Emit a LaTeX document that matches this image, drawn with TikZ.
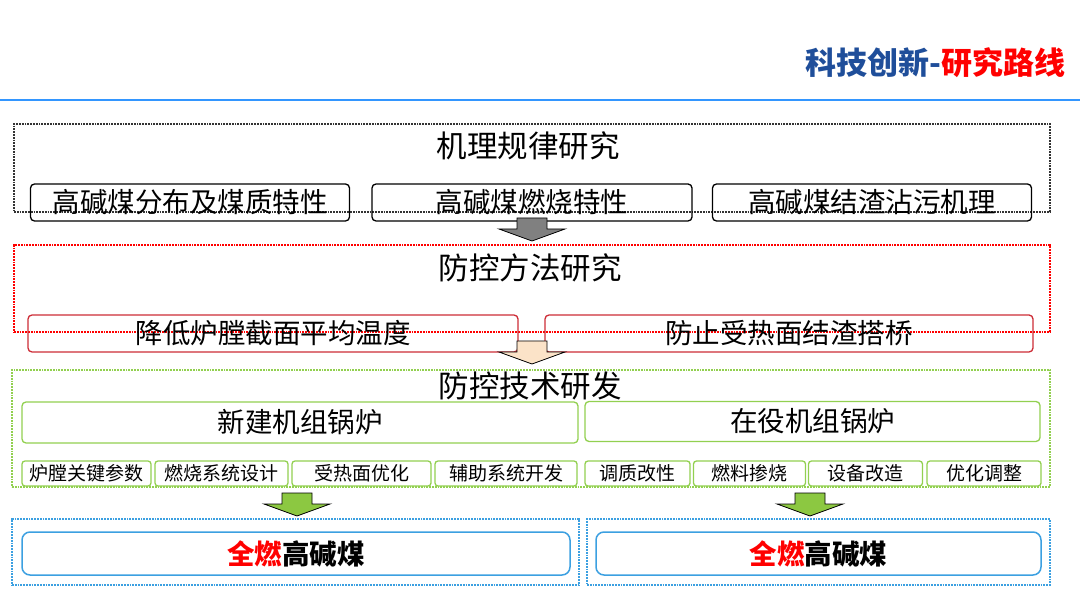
\documentclass[tikz,border=0pt]{standalone}
\usepackage{fontspec}
\setmainfont{Noto Sans CJK SC}
\usepackage{xcolor}
\usetikzlibrary{positioning}

\definecolor{titleblue}{RGB}{31,78,154}
\definecolor{rulebl}{RGB}{51,150,255}
\definecolor{boxred}{RGB}{205,45,55}
\definecolor{boxgreen}{RGB}{146,208,80}
\definecolor{arrgreen}{RGB}{140,200,65}
\definecolor{boxblue}{RGB}{60,160,225}
\definecolor{peach}{RGB}{251,227,200}
\definecolor{arrgray}{RGB}{128,128,128}

% block arrow: centre x, top y, fill colour
\newcommand{\flowarrow}[3]{%
  \filldraw[fill=#3, draw=black, line width=0.8pt]
    (#1-15,#2) -- (#1+15,#2) -- (#1+15,#2+11) -- (#1+33,#2+11)
    -- (#1,#2+23) -- (#1-33,#2+11) -- (#1-15,#2+11) -- cycle;}

\begin{document}
\begin{tikzpicture}[x=1pt, y=-1pt,
  sect/.style={draw, densely dotted, line width=1.8pt},
  secttitle/.style={inner sep=0pt, font=\fontsize{30.5}{30.5}\selectfont},
  bigbox/.style={draw, rounded corners=4pt, line width=1.3pt, inner sep=0pt, font=\fontsize{27.5}{27.5}\selectfont},
  smallbox/.style={draw=boxgreen, rounded corners=3pt, line width=1.3pt, inner sep=0pt, minimum height=25pt, font=\fontsize{19}{19}\selectfont},
  resbox/.style={draw=boxblue, rounded corners=8pt, line width=1.5pt, inner sep=0pt, minimum height=43pt, font=\fontsize{27.5}{27.5}\selectfont\bfseries}
]
\useasboundingbox[fill=white] (0,0) rectangle (1080,612);

% heading
\node (title) [anchor=east, inner sep=0pt, font=\fontsize{31}{31}\selectfont\bfseries] at (1066,63)
  {\textcolor{titleblue}{科技创新-}\textcolor{red}{研究路线}};
\draw[rulebl, line width=2.8pt] (0,100) -- (1080,100);

% mechanism study
\node (mech) [sect, draw=black!80, minimum width=1036pt, minimum height=88pt] at (532,168) {};
\node (mechT) [secttitle] at (528,146) {机理规律研究};
\node (m1) [bigbox, minimum width=319pt, minimum height=37pt] at (190,202.5) {高碱煤分布及煤质特性};
\node (m2) [bigbox, minimum width=320pt, minimum height=37pt] at (532,202.5) {高碱煤燃烧特性};
\node (m3) [bigbox, minimum width=319pt, minimum height=37pt] at (872,202.5) {高碱煤结渣沾污机理};
\flowarrow{532}{218}{arrgray}

% control method study
\node (ctrl) [sect, draw=red, minimum width=1036pt, minimum height=87pt] at (532,288.5) {};
\node (ctrlT) [secttitle] at (530,268) {防控方法研究};
\node (c1) [bigbox, draw=boxred, minimum width=490pt, minimum height=37pt] at (273,333.5) {降低炉膛截面平均温度};
\node (c2) [bigbox, draw=boxred, minimum width=488pt, minimum height=37pt] at (789,333.5) {防止受热面结渣搭桥};
\flowarrow{532}{341}{peach}

% control technology development
\node (tech) [sect, draw=boxgreen, minimum width=1038pt, minimum height=117pt] at (531,428.5) {};
\node (techT) [secttitle] at (530,386) {防控技术研发};
\node (t1) [bigbox, draw=boxgreen, minimum width=556pt, minimum height=41pt] at (300,422.5) {新建机组锅炉};
\node (t2) [bigbox, draw=boxgreen, minimum width=455pt, minimum height=40pt] at (812.5,421.5) {在役机组锅炉};
\node (s1) [smallbox, minimum width=129pt] at (86.5,473.5) {炉膛关键参数};
\node (s2) [smallbox, minimum width=133pt] at (221.5,473.5) {燃烧系统设计};
\node (s3) [smallbox, minimum width=139pt] at (361.5,473.5) {受热面优化};
\node (s4) [smallbox, minimum width=142pt] at (506,473.5) {辅助系统开发};
\node (s5) [smallbox, minimum width=105pt] at (637.5,473.5) {调质改性};
\node (s6) [smallbox, minimum width=112pt] at (749.5,473.5) {燃料掺烧};
\node (s7) [smallbox, minimum width=114pt] at (865.5,473.5) {设备改造};
\node (s8) [smallbox, minimum width=114pt] at (984,473.5) {优化调整};
\flowarrow{297}{493}{arrgreen}
\flowarrow{810}{493}{arrgreen}

% results
\node (rb1) [sect, draw=boxblue, minimum width=567pt, minimum height=66pt] at (295.5,552) {};
\node (rb2) [sect, draw=boxblue, minimum width=463pt, minimum height=66pt] at (818.5,552) {};
\node (r1) [resbox, minimum width=548pt] at (296,553.5) {\textcolor{red}{全燃}高碱煤};
\node (r2) [resbox, minimum width=445pt] at (818.5,553.5) {\textcolor{red}{全燃}高碱煤};
\end{tikzpicture}
\end{document}
